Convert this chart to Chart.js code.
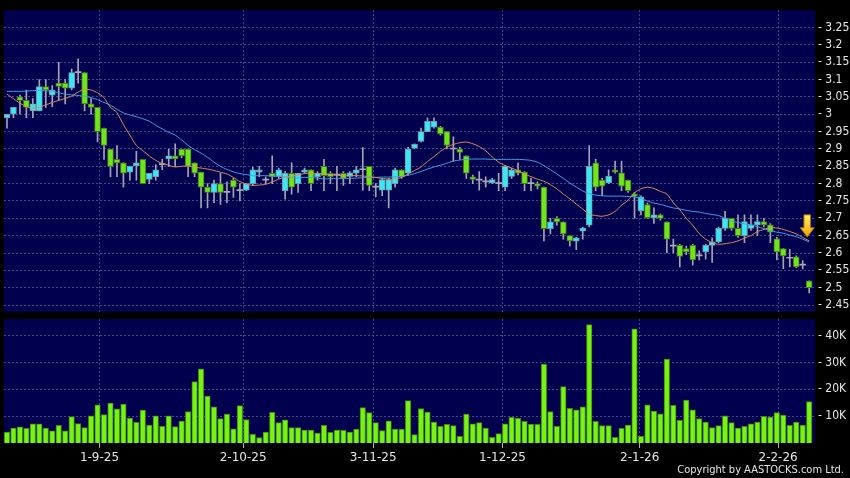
<!DOCTYPE html>
<html>
<head>
<meta charset="utf-8">
<script src="https://cdn.jsdelivr.net/npm/chart.js@4.4.1/dist/chart.umd.min.js"></script>
<style>
  html, body { margin: 0; padding: 0; background: #000; }
  #wrap { position: relative; width: 850px; height: 478px; overflow: hidden; background: #000; }
  canvas { position: absolute; left: 0; top: 0; }
  #copy { position: absolute; right: 6px; top: 463px; color: #e6e6e6; font: 11px "DejaVu Sans Condensed", "DejaVu Sans", sans-serif; white-space: nowrap; }
</style>
</head>
<body>
<div id="wrap">
  <canvas id="priceChart" width="850" height="478"></canvas>
  <canvas id="volChart" width="850" height="478"></canvas>
  <div id="copy">Copyright by AASTOCKS.com Ltd.</div>
</div>
<script>
// daily candles, one entry per trading day
const opens = [
  2.99, 3.00, 3.05, 3.04, 3.01, 3.01, 3.08, 3.055, 3.09, 3.09,
  3.075, 3.12, 3.12, 3.03, 3.02, 2.96, 2.90, 2.87, 2.86, 2.833,
  2.852, 2.87, 2.812, 2.82, 2.855, 2.871, 2.88, 2.90, 2.90, 2.86,
  2.833, 2.79, 2.775, 2.80, 2.775, 2.81, 2.78, 2.781, 2.80, 2.833,
  2.81, 2.83, 2.821, 2.78, 2.83, 2.80, 2.833, 2.84, 2.82, 2.85,
  2.83, 2.825, 2.83, 2.821, 2.83, 2.84, 2.85, 2.79, 2.781, 2.781,
  2.80, 2.84, 2.83, 2.902, 2.922, 2.95, 2.963, 2.963, 2.95, 2.90,
  2.90, 2.88, 2.82, 2.81, 2.805, 2.802, 2.80, 2.79, 2.821, 2.84,
  2.833, 2.80, 2.80, 2.79, 2.67, 2.70, 2.69, 2.65, 2.634, 2.663,
  2.68, 2.86, 2.81, 2.802, 2.84, 2.831, 2.81, 2.771, 2.722, 2.74,
  2.702, 2.71, 2.69, 2.62, 2.622, 2.613, 2.622, 2.592, 2.603, 2.622,
  2.632, 2.671, 2.70, 2.671, 2.65, 2.671, 2.681, 2.691, 2.681, 2.641,
  2.613, 2.585, 2.589, 2.565, 2.52
];
const highs = [
  3.00, 3.02, 3.055, 3.07, 3.045, 3.10, 3.10, 3.083, 3.15, 3.10,
  3.13, 3.16, 3.12, 3.045, 3.02, 2.96, 2.90, 2.91, 2.86, 2.85,
  2.893, 2.87, 2.83, 2.855, 2.87, 2.90, 2.915, 2.90, 2.90, 2.86,
  2.833, 2.80, 2.81, 2.83, 2.805, 2.815, 2.80, 2.80, 2.847, 2.85,
  2.82, 2.88, 2.845, 2.835, 2.86, 2.83, 2.845, 2.84, 2.835, 2.87,
  2.835, 2.85, 2.835, 2.835, 2.85, 2.904, 2.85, 2.80, 2.815, 2.815,
  2.845, 2.84, 2.905, 2.915, 2.96, 2.99, 2.99, 2.965, 2.95, 2.935,
  2.905, 2.88, 2.825, 2.835, 2.82, 2.815, 2.83, 2.852, 2.845, 2.86,
  2.835, 2.815, 2.805, 2.79, 2.70, 2.705, 2.69, 2.65, 2.645, 2.675,
  2.91, 2.87, 2.815, 2.84, 2.865, 2.865, 2.81, 2.775, 2.765, 2.745,
  2.73, 2.712, 2.69, 2.64, 2.625, 2.62, 2.625, 2.606, 2.625, 2.644,
  2.675, 2.72, 2.70, 2.71, 2.71, 2.71, 2.71, 2.70, 2.685, 2.645,
  2.613, 2.61, 2.592, 2.578, 2.52
];
const lows = [
  2.96, 2.99, 3.00, 2.99, 2.99, 3.01, 3.02, 3.022, 3.04, 3.03,
  3.07, 3.09, 3.01, 3.00, 2.92, 2.87, 2.82, 2.82, 2.79, 2.81,
  2.81, 2.80, 2.80, 2.81, 2.84, 2.85, 2.85, 2.875, 2.82, 2.82,
  2.73, 2.73, 2.745, 2.74, 2.745, 2.76, 2.75, 2.78, 2.795, 2.82,
  2.80, 2.80, 2.815, 2.755, 2.77, 2.775, 2.83, 2.78, 2.81, 2.78,
  2.80, 2.78, 2.795, 2.80, 2.82, 2.781, 2.78, 2.762, 2.765, 2.73,
  2.79, 2.815, 2.825, 2.90, 2.92, 2.95, 2.96, 2.94, 2.90, 2.865,
  2.87, 2.815, 2.80, 2.781, 2.79, 2.80, 2.78, 2.78, 2.815, 2.825,
  2.78, 2.78, 2.785, 2.635, 2.655, 2.68, 2.64, 2.62, 2.61, 2.64,
  2.675, 2.78, 2.765, 2.80, 2.83, 2.78, 2.775, 2.70, 2.71, 2.70,
  2.685, 2.695, 2.60, 2.60, 2.56, 2.595, 2.565, 2.58, 2.582, 2.573,
  2.63, 2.665, 2.665, 2.645, 2.63, 2.665, 2.65, 2.675, 2.63, 2.58,
  2.555, 2.56, 2.558, 2.554, 2.485
];
const closes = [
  3.00, 3.02, 3.04, 3.02, 3.03, 3.08, 3.07, 3.07, 3.08, 3.075,
  3.12, 3.12, 3.03, 3.02, 2.95, 2.91, 2.85, 2.86, 2.83, 2.85,
  2.86, 2.80, 2.83, 2.84, 2.855, 2.88, 2.871, 2.88, 2.85, 2.83,
  2.79, 2.775, 2.80, 2.775, 2.775, 2.79, 2.78, 2.80, 2.84, 2.84,
  2.81, 2.82, 2.84, 2.83, 2.79, 2.83, 2.84, 2.80, 2.83, 2.823,
  2.82, 2.825, 2.815, 2.831, 2.84, 2.84, 2.795, 2.79, 2.812, 2.812,
  2.84, 2.82, 2.90, 2.913, 2.95, 2.98, 2.98, 2.943, 2.91, 2.90,
  2.89, 2.83, 2.812, 2.81, 2.805, 2.812, 2.80, 2.85, 2.839, 2.83,
  2.80, 2.80, 2.793, 2.67, 2.69, 2.69, 2.655, 2.635, 2.644, 2.672,
  2.85, 2.79, 2.793, 2.821, 2.833, 2.793, 2.78, 2.763, 2.762, 2.702,
  2.71, 2.70, 2.64, 2.62, 2.59, 2.603, 2.58, 2.592, 2.622, 2.632,
  2.671, 2.70, 2.671, 2.65, 2.691, 2.681, 2.691, 2.681, 2.66, 2.603,
  2.592, 2.585, 2.56, 2.565, 2.50
];
// orange and blue moving-average lines as drawn on the picture
const maShort = [
  3.058, 3.045, 3.032, 3.022, 3.017, 3.020, 3.027, 3.034, 3.040, 3.046,
  3.052, 3.064, 3.072, 3.070, 3.062, 3.048, 3.020, 3.005, 2.970, 2.940,
  2.910, 2.895, 2.880, 2.867, 2.858, 2.853, 2.848, 2.850, 2.851, 2.847,
  2.845, 2.842, 2.838, 2.833, 2.828, 2.818, 2.806, 2.798, 2.795, 2.796,
  2.798, 2.805, 2.813, 2.819, 2.822, 2.825, 2.829, 2.830, 2.829, 2.828,
  2.826, 2.824, 2.823, 2.823, 2.823, 2.822, 2.820, 2.818, 2.815, 2.813,
  2.814, 2.818, 2.828, 2.838, 2.848, 2.864, 2.878, 2.893, 2.905, 2.913,
  2.918, 2.920, 2.915, 2.907, 2.895, 2.877, 2.862, 2.852, 2.845, 2.837,
  2.828, 2.820, 2.813, 2.807, 2.797, 2.785, 2.770, 2.756, 2.741, 2.727,
  2.712, 2.708, 2.706, 2.710, 2.720, 2.738, 2.752, 2.774, 2.785, 2.790,
  2.786, 2.778, 2.770, 2.745, 2.725, 2.700, 2.680, 2.656, 2.640, 2.630,
  2.625, 2.627, 2.630, 2.635, 2.643, 2.650, 2.662, 2.668, 2.674, 2.672,
  2.668, 2.662, 2.655, 2.645, 2.635
];
const maLong = [
  3.066, 3.066, 3.066, 3.067, 3.068, 3.069, 3.068, 3.066, 3.062, 3.058,
  3.056, 3.054, 3.052, 3.048, 3.042, 3.034, 3.026, 3.014, 3.004, 2.998,
  2.993, 2.987, 2.980, 2.968, 2.958, 2.948, 2.940, 2.926, 2.910, 2.898,
  2.888, 2.876, 2.862, 2.850, 2.841, 2.834, 2.829, 2.826, 2.823, 2.823,
  2.823, 2.822, 2.821, 2.819, 2.817, 2.817, 2.818, 2.818, 2.816, 2.814,
  2.814, 2.815, 2.815, 2.815, 2.816, 2.817, 2.818, 2.818, 2.819, 2.819,
  2.820, 2.821, 2.824, 2.829, 2.835, 2.842, 2.848, 2.853, 2.859, 2.865,
  2.868, 2.870, 2.871, 2.871, 2.871, 2.870, 2.870, 2.870, 2.870, 2.870,
  2.869, 2.867, 2.862, 2.852, 2.840, 2.828, 2.815, 2.802, 2.790, 2.779,
  2.771, 2.767, 2.765, 2.764, 2.764, 2.764, 2.763, 2.762, 2.757, 2.750,
  2.744, 2.740, 2.735, 2.730, 2.727, 2.723, 2.720, 2.718, 2.714, 2.711,
  2.708, 2.700, 2.692, 2.688, 2.684, 2.681, 2.676, 2.670, 2.665, 2.660,
  2.657, 2.652, 2.647, 2.640, 2.632
];
const volumes = [
  4100, 5600, 6000, 5500, 7100, 7100, 5600, 4500, 6600, 4500,
  9800, 7200, 5700, 10100, 14200, 10600, 14900, 12700, 14500, 9300,
  7700, 12300, 6700, 10100, 6200, 10100, 6100, 8200, 11700, 22900,
  27600, 17500, 13500, 9100, 10800, 5300, 13900, 8700, 3200, 2000,
  4100, 11400, 7600, 8600, 5700, 5700, 4800, 4800, 3700, 6600,
  4000, 4800, 4700, 4100, 5200, 13200, 11300, 7600, 4600, 8300,
  5200, 5200, 15800, 3100, 12800, 11500, 7800, 6200, 7000, 6500,
  2500, 10800, 7100, 7600, 5600, 2100, 3500, 7100, 9600, 9200,
  8100, 7000, 7000, 29400, 11700, 6200, 21000, 12900, 12400, 13500,
  44100, 8100, 6500, 6500, 2100, 5500, 6700, 42500, 2500, 14200,
  11900, 10900, 31300, 14000, 8400, 16000, 12400, 9100, 7800, 5700,
  6500, 10100, 7600, 5600, 6200, 7100, 7800, 9900, 9700, 11300,
  10400, 6600, 7800, 6700, 15400
];

// date ticks (positions in trading-day index) and axis ticks
const dateTickIdx = [14.3, 36.5, 56.6, 76.6, 97.8, 119.2];
const dateTickLabels = ["1-9-25", "2-10-25", "3-11-25", "1-12-25", "2-1-26", "2-2-26"];
const priceTicks = [2.45, 2.5, 2.55, 2.6, 2.65, 2.7, 2.75, 2.8, 2.85, 2.9, 2.95, 3, 3.05, 3.1, 3.15, 3.2, 3.25];
const priceTickLabels = ["2.45", "2.5", "2.55", "2.6", "2.65", "2.7", "2.75", "2.8", "2.85", "2.9", "2.95", "3", "3.05", "3.1", "3.15", "3.2", "3.25"];
const volTicks = [10000, 20000, 30000, 40000];
const volTickLabels = ["10K", "20K", "30K", "40K"];

// down-arrow marker at the right end
const arrowIdx = 123.7;
const arrowTop = 2.71;
const arrowTip = 2.646;

const X_MIN = -0.46;
const X_MAX = 124.9;
const PANEL = "#00004e";
const GRID = "#45458a";
const TEXT = "#e6e6e6";
const UP = "#3de6f4";
const DOWN = "#72e41e";
const FLAT = "#a8a8b8";
const WICK = "#a4a4b4";
const VOL = "#78f214";

const days = opens.map((_, i) => i);

const panelBg = {
  id: "panelBg",
  beforeDraw(chart) {
    const { ctx, chartArea: a } = chart;
    ctx.save();
    ctx.fillStyle = PANEL;
    ctx.fillRect(a.left, a.top, a.right - a.left, a.bottom - a.top);
    ctx.restore();
  },
};

const arrowMark = {
  id: "arrowMark",
  afterDatasetsDraw(chart) {
    const { ctx, scales } = chart;
    const cx = scales.x.getPixelForValue(arrowIdx);
    const top = scales.y.getPixelForValue(arrowTop);
    const tip = scales.y.getPixelForValue(arrowTip);
    const neck = top + (tip - top) * 0.58;
    const g = ctx.createLinearGradient(0, top, 0, tip);
    g.addColorStop(0, "#fff060");
    g.addColorStop(1, "#f0a000");
    ctx.save();
    ctx.fillStyle = g;
    ctx.strokeStyle = "#a87000";
    ctx.lineWidth = 1;
    ctx.beginPath();
    ctx.moveTo(cx - 3.3, top);
    ctx.lineTo(cx + 3.3, top);
    ctx.lineTo(cx + 3.3, neck);
    ctx.lineTo(cx + 7, neck);
    ctx.lineTo(cx, tip);
    ctx.lineTo(cx - 7, neck);
    ctx.lineTo(cx - 3.3, neck);
    ctx.closePath();
    ctx.fill();
    ctx.stroke();
    ctx.restore();
  },
};

function candleColor(i) {
  if (closes[i] > opens[i]) return UP;
  if (closes[i] < opens[i]) return DOWN;
  return FLAT;
}

function candleBorder(i) {
  if (closes[i] > opens[i]) return "#6a9ea8";
  if (closes[i] < opens[i]) return "#3c7c16";
  return FLAT;
}

const axisFont = { family: '"DejaVu Sans Condensed", "DejaVu Sans", sans-serif', size: 12 };
const dateFont = { family: '"DejaVu Sans", sans-serif', size: 12 };

function xScale(showLabels) {
  return {
    type: "linear",
    min: X_MIN,
    max: X_MAX,
    offset: false,
    afterBuildTicks: (ax) => {
      ax.ticks = dateTickIdx.map((v) => ({ value: v }));
    },
    afterFit: (ax) => {
      ax.height = showLabels ? 35 : 0;
    },
    ticks: {
      display: showLabels,
      autoSkip: false,
      maxRotation: 0,
      color: TEXT,
      font: dateFont,
      padding: 3,
      callback: (v, i) => dateTickLabels[i],
    },
    grid: {
      offset: false,
      color: GRID,
      drawTicks: showLabels,
      tickLength: 5,
      tickColor: "#b0b0b8",
      tickBorderDash: [],
    },
    border: { display: false, dash: [2, 2] },
  };
}

function yScale(min, max, ticks, labels) {
  return {
    position: "right",
    min,
    max,
    afterBuildTicks: (ax) => {
      ax.ticks = ticks.map((v) => ({ value: v }));
    },
    afterFit: (ax) => {
      ax.width = 35;
    },
    ticks: {
      color: TEXT,
      font: axisFont,
      padding: 3,
      autoSkip: false,
      callback: (v, i) => "- " + labels[i],
    },
    grid: { color: GRID, drawTicks: false },
    border: { display: false, dash: [2, 2] },
  };
}

function drawPrice() {
  new Chart(document.getElementById("priceChart"), {
    type: "bar",
    data: {
      datasets: [
        {
          type: "line",
          data: days.map((i) => ({ x: i, y: maLong[i] })),
          borderColor: "#3aa6ec",
          borderWidth: 1,
          pointRadius: 0,
          tension: 0.2,
          order: 1,
        },
        {
          type: "line",
          data: days.map((i) => ({ x: i, y: maShort[i] })),
          borderColor: "#e48a58",
          borderWidth: 1,
          pointRadius: 0,
          tension: 0.2,
          order: 0,
        },
        {
          data: days.map((i) => ({ x: i, y: [opens[i], closes[i]] })),
          backgroundColor: days.map(candleColor),
          borderColor: days.map(candleBorder),
          borderWidth: days.map((i) => (opens[i] === closes[i] ? 0 : 1)),
          borderSkipped: false,
          barThickness: 6,
          minBarLength: 1,
          grouped: false,
          order: 2,
        },
        {
          data: days.map((i) => ({ x: i, y: [lows[i], highs[i]] })),
          backgroundColor: WICK,
          borderWidth: 0,
          barThickness: 1,
          grouped: false,
          order: 3,
        },
      ],
    },
    options: {
      responsive: false,
      animation: false,
      events: [],
      layout: { padding: { left: 4, top: 5, right: 0, bottom: 166 } },
      plugins: { legend: { display: false }, tooltip: { enabled: false } },
      scales: {
        x: xScale(false),
        y: yScale(2.43, 3.3, priceTicks, priceTickLabels),
      },
    },
    plugins: [panelBg, arrowMark],
  });
}

function drawVolume() {
  new Chart(document.getElementById("volChart"), {
    type: "bar",
    data: {
      datasets: [
        {
          data: days.map((i) => ({ x: i, y: volumes[i] })),
          backgroundColor: VOL,
          borderColor: "#3c8a10",
          borderWidth: 1,
          borderSkipped: "start",
          barThickness: 5.5,
        },
      ],
    },
    options: {
      responsive: false,
      animation: false,
      events: [],
      layout: { padding: { left: 4, top: 319, right: 0, bottom: 0 } },
      plugins: { legend: { display: false }, tooltip: { enabled: false } },
      scales: {
        x: xScale(true),
        y: yScale(0, 46200, volTicks, volTickLabels),
      },
    },
    plugins: [panelBg],
  });
}

drawPrice();
drawVolume();
</script>
</body>
</html>
